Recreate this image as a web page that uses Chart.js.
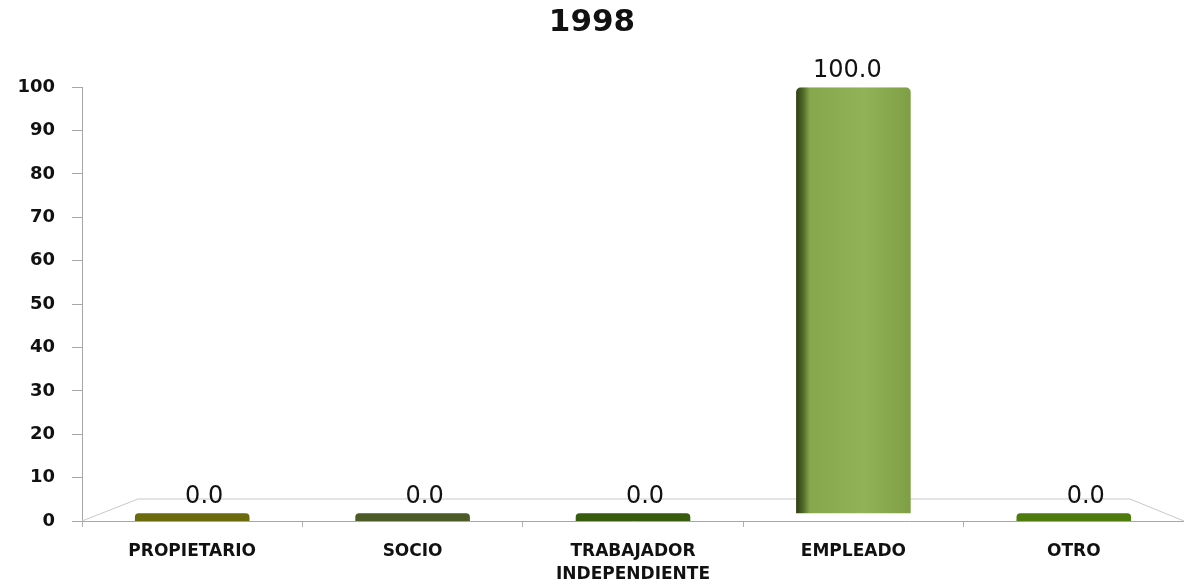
<!DOCTYPE html>
<html>
<head>
<meta charset="utf-8">
<script src="https://cdn.jsdelivr.net/npm/chart.js@4.4.1/dist/chart.umd.min.js"></script>
<style>
    html, body { margin: 0; padding: 0; background: #fff; }
    #wrap { width: 1184px; height: 588px; }
</style>
</head>
<body>
<div id="wrap"><canvas id="chart"></canvas></div>
<script>
const categories = ['PROPIETARIO', 'SOCIO', ['TRABAJADOR', 'INDEPENDIENTE'], 'EMPLEADO', 'OTRO'];
const values = [0, 0, 0, 100, 0];
const barColors = ['#6b6a0c', '#4b5a26', '#385c0e', '#8aab4f', '#4e7b0e'];
const yMin = 0;
const yMax = 100;
const yStep = 10;

const FONT = '"DejaVu Sans", Verdana, sans-serif';

// light grey 3d "floor" behind the bars
const floorPlugin = {
    id: 'floor',
    beforeDatasetsDraw (chart) {
        const { ctx, chartArea } = chart;
        const y0 = chart.scales.y.getPixelForValue(0);
        ctx.save();
        ctx.strokeStyle = '#c9c9c9';
        ctx.lineWidth = 1;
        ctx.beginPath();
        ctx.moveTo(chartArea.left, y0);
        ctx.lineTo(chartArea.left + 56, y0 - 22);
        ctx.lineTo(chartArea.right - 54, y0 - 22);
        ctx.lineTo(chartArea.right, y0);
        ctx.stroke();
        ctx.restore();
    }
};

const valueLabels = {
    id: 'valueLabels',
    afterDatasetsDraw (chart) {
        const { ctx } = chart;
        const meta = chart.getDatasetMeta(0);
        ctx.save();
        ctx.fillStyle = '#111';
        ctx.font = '24px ' + FONT;
        ctx.textAlign = 'center';
        ctx.textBaseline = 'bottom';
        meta.data.forEach((bar, i) => {
            const top = Math.min(bar.y, bar.base);
            ctx.fillText(values[i].toFixed(1), bar.x + (values[i] > 0 ? -6 : 12), top - 4);
        });
        ctx.restore();
    }
};

function barFill (c) {
    const i = c.dataIndex;
    const chart = c.chart;
    const xs = chart.scales.x;
    if (!xs || values[i] <= 0 || !chart.chartArea) {
        return barColors[i];
    }
    const cx = xs.getPixelForValue(i);
    const half = (xs.width / categories.length) * 0.52 / 2;
    const g = chart.ctx.createLinearGradient(cx - half, 0, cx + half, 0);
    g.addColorStop(0, '#2f3d16');
    g.addColorStop(0.06, '#4f6826');
    g.addColorStop(0.12, '#86a74b');
    g.addColorStop(0.6, '#92b257');
    g.addColorStop(1, '#7f9f45');
    return g;
}

new Chart(document.getElementById('chart'), {
    type: 'bar',
    data: {
        labels: categories,
        datasets: [{
            data: values,
            base: 1.8,
            backgroundColor: barFill,
            borderRadius: { topLeft: 5, topRight: 5 },
            borderSkipped: false,
            categoryPercentage: 1,
            barPercentage: 0.52
        }]
    },
    plugins: [floorPlugin, valueLabels],
    options: {
        responsive: true,
        maintainAspectRatio: false,
        animation: false,
        layout: { padding: { left: 0, right: 0, top: 0, bottom: 0 } },
        plugins: {
            legend: { display: false },
            tooltip: { enabled: false },
            title: {
                display: true,
                text: '1998',
                color: '#111',
                font: { family: FONT, size: 31, weight: 'bold' },
                padding: { top: 4, bottom: 46 }
            }
        },
        scales: {
            x: {
                offset: true,
                grid: {
                    offset: true,
                    drawOnChartArea: false,
                    tickLength: 6,
                    color: '#b0b0b0'
                },
                border: { color: '#a6a6a6' },
                ticks: {
                    color: '#111',
                    padding: 13,
                    maxRotation: 0,
                    font: { family: FONT, size: 17, weight: 'bold', lineHeight: 1.35 }
                },
                afterFit (scale) { scale.height = 67; }
            },
            y: {
                min: yMin,
                max: yMax,
                grid: {
                    drawOnChartArea: false,
                    tickLength: 10,
                    color: '#a6a6a6'
                },
                border: { color: '#a6a6a6' },
                ticks: {
                    stepSize: yStep,
                    color: '#111',
                    padding: 17,
                    font: { family: FONT, size: 18, weight: 'bold' }
                },
                afterFit (scale) { scale.width = 82; }
            }
        }
    }
});
</script>
</body>
</html>
